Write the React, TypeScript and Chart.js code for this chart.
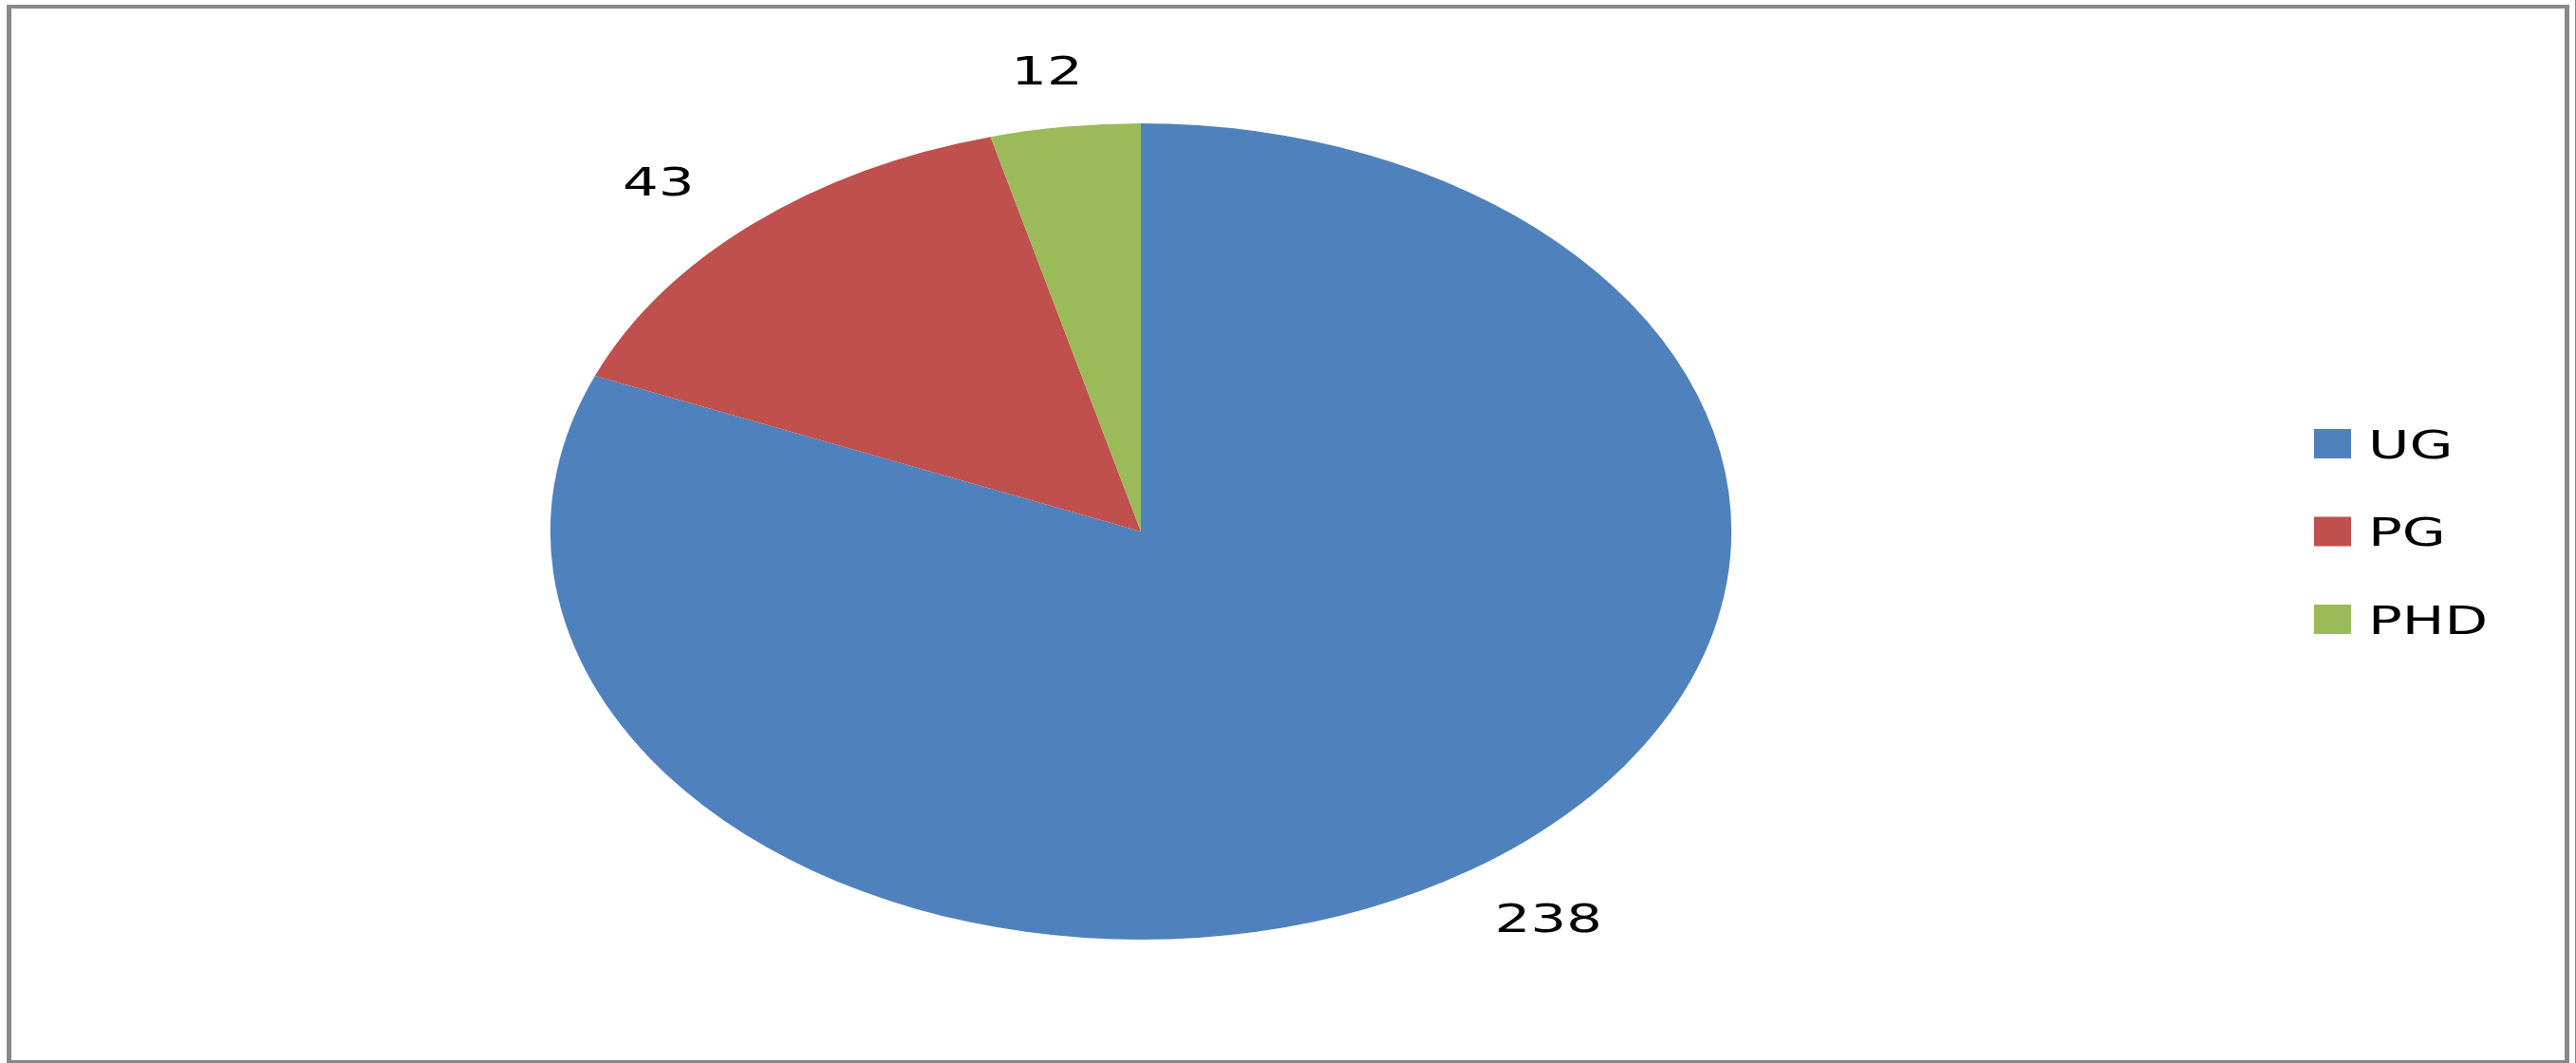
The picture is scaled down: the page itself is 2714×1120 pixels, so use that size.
import React, { useEffect, useRef } from "react";
import { Chart, registerables } from "chart.js";

Chart.register(...registerables);

const categories = ["UG", "PG", "PHD"];
const counts = [238, 43, 12];
const sliceColors = ["#4F81BD", "#C0504D", "#9BBB59"];

const W = 2714;
const H = 1120;
const STRETCH = 1.447;
const FONT = "41px 'DejaVu Sans'";
const CAP = 15;

function stretchedText(ctx: CanvasRenderingContext2D, text: string, x: number, y: number, align: CanvasTextAlign) {
  ctx.save();
  ctx.translate(x, y);
  ctx.scale(STRETCH, 1);
  ctx.font = FONT;
  ctx.fillStyle = "#000000";
  ctx.textAlign = align;
  ctx.textBaseline = "alphabetic";
  ctx.fillText(text, 0, CAP);
  ctx.restore();
}

export default function App() {
  const ref = useRef<HTMLCanvasElement>(null);
  useEffect(() => {
    document.body.style.margin = "0";
    const canvas = ref.current;
    if (!canvas) return;

    const framePlugin = {
      id: "frame",
      beforeDraw(chart: any) {
        const ctx = chart.ctx as CanvasRenderingContext2D;
        ctx.save();
        ctx.fillStyle = "#ffffff";
        ctx.fillRect(0, 0, W, H);
        ctx.fillStyle = "#888888";
        ctx.fillRect(7, 5, 2700, 4);
        ctx.fillRect(7, 5, 5, 1115);
        ctx.fillRect(2702, 5, 5, 1115);
        ctx.fillRect(7, 1117, 2700, 3);
        ctx.fillRect(2713, 0, 1, H);
        ctx.restore();
      },
    };

    const stretchPlugin = {
      id: "stretch",
      beforeDatasetsDraw(chart: any) {
        const meta = chart.getDatasetMeta(0);
        const cx = meta.data[0].x;
        const ctx = chart.ctx as CanvasRenderingContext2D;
        ctx.save();
        ctx.translate(cx, 0);
        ctx.scale(STRETCH, 1);
        ctx.translate(-cx, 0);
      },
      afterDatasetsDraw(chart: any) {
        const ctx = chart.ctx as CanvasRenderingContext2D;
        ctx.restore();
        const meta = chart.getDatasetMeta(0);
        meta.data.forEach((arc: any, i: number) => {
          const p = arc.getProps(["x", "y", "startAngle", "endAngle", "outerRadius"], true);
          const mid = (p.startAngle + p.endAngle) / 2;
          const lx = p.x + Math.cos(mid) * (p.outerRadius * STRETCH + 150);
          const ly = p.y + Math.sin(mid) * (p.outerRadius + 60);
          stretchedText(ctx, String(chart.data.datasets[0].data[i]), lx, ly, "center");
        });
      },
      afterDraw(chart: any) {
        const ctx = chart.ctx as CanvasRenderingContext2D;
        const meta = chart.getDatasetMeta(0);
        const cy = meta.data[0].y;
        const labels = chart.data.labels as string[];
        const colors = chart.data.datasets[0].backgroundColor as string[];
        labels.forEach((lab, i) => {
          const rowY = cy + (i - (labels.length - 1) / 2) * 92.5;
          ctx.save();
          ctx.fillStyle = colors[i];
          ctx.fillRect(2438, rowY - 15.5, 39, 31);
          ctx.restore();
          stretchedText(ctx, lab, 2495, rowY, "left");
        });
      },
    };

    const chart = new Chart(canvas, {
      type: "pie",
      data: {
        labels: categories,
        datasets: [
          {
            data: counts,
            backgroundColor: sliceColors,
            borderWidth: 0,
          },
        ],
      },
      options: {
        animation: false,
        responsive: false,
        maintainAspectRatio: false,
        layout: { padding: { left: 772, right: 1082, top: 130, bottom: 130 } },
        plugins: {
          legend: { display: false },
          tooltip: { enabled: false },
        },
      },
      plugins: [framePlugin, stretchPlugin],
    });
    return () => chart.destroy();
  }, []);

  return (
    <div style={{ width: W, height: H }}>
      <canvas ref={ref} width={W} height={H} style={{ display: "block", width: W, height: H }} />
    </div>
  );
}
